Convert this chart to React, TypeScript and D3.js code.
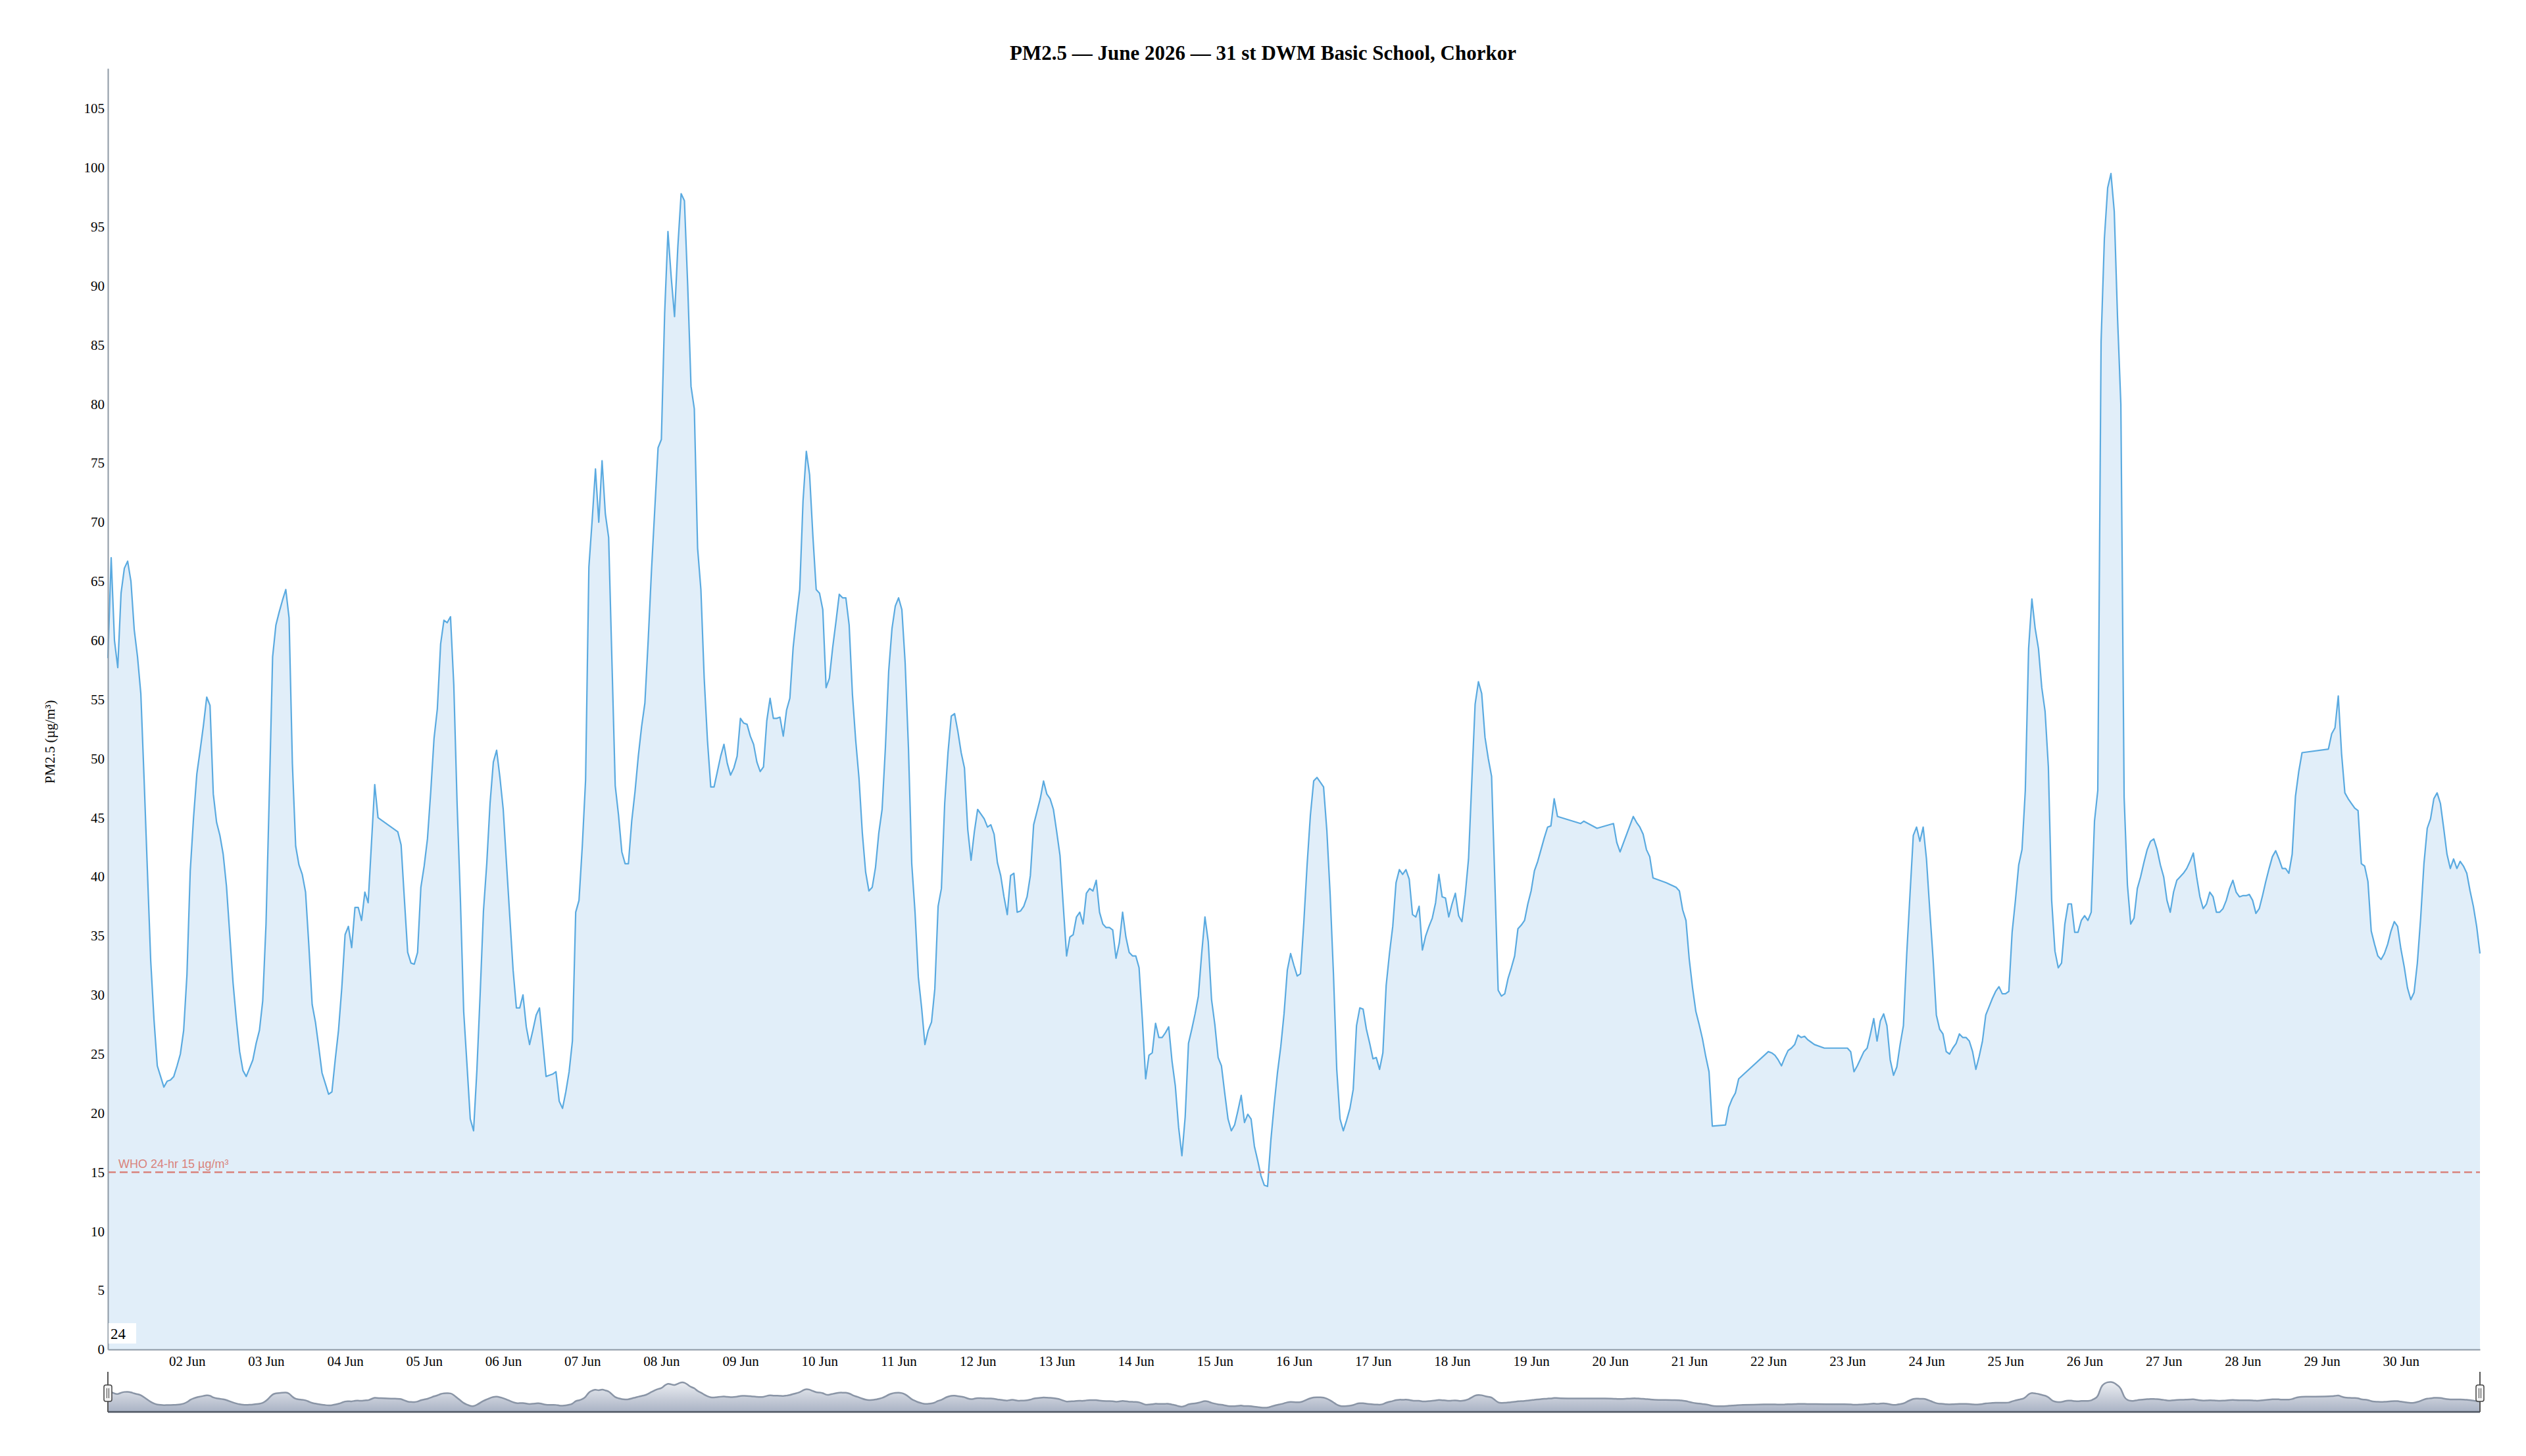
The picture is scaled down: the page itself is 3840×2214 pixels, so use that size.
import React, { useEffect, useRef } from "react";
import * as d3 from "d3";

// Hourly PM2.5 readings (µg/m³), 00:00 .. 23:00 each day; null = no reading
const jun01 = [58.5, 67, 60, 57.7, 64, 66.1, 66.7, 65, 60.9, 58.6, 55.5, 48.2, 40.5, 32.9, 27.9, 24, 23.1, 22.2, 22.7, 22.8, 23.1, 24, 25, 27];
const jun02 = [31.7, 40.5, 45, 48.7, 50.7, 52.8, 55.2, 54.5, 47, 44.6, 43.5, 41.9, 39.2, 35.1, 31, 27.9, 25.2, 23.6, 23.1, 23.8, 24.5, 25.9, 27, 29.5];
const jun03 = [36, 47, 58.6, 61.3, 62.4, 63.4, 64.3, 61.9, 49.6, 42.6, 41, 40.2, 38.7, 34.2, 29.2, 27.7, 25.6, 23.4, 22.5, 21.6, 21.8, 24.5, 27, 30.6];
const jun04 = [35.1, 35.8, 34, 37.4, 37.4, 36.3, 38.7, 37.8, 42.8, 47.8, 45, null, null, null, null, null, 43.8, 42.7, 38.1, 33.6, 32.7, 32.6, 33.6, 39.1];
const jun05 = [40.9, 43.2, 47.2, 51.7, 54.2, 59.7, 61.7, 61.5, 62, 56.2, 46.2, 38.1, 28.6, 24.1, 19.5, 18.5, 23.6, 30.1, 37.1, 41.1, 46.2, 49.7, 50.7, 48.4];
const jun06 = [45.7, 41.1, 36.6, 32.1, 28.9, 28.9, 30, 27.3, 25.8, 27, 28.3, 28.9, 26, 23.1, 23.2, 23.3, 23.5, 21, 20.4, 21.8, 23.5, 26.1, 37, 38];
const jun07 = [42.6, 48.2, 66.2, 70.2, 74.5, 70, 75.2, 70.7, 68.7, 58.2, 47.7, 45.2, 42.1, 41.1, 41.1, 44.7, 47.2, 50.2, 52.7, 54.7, 60, 65.9, 71.1, 76.3];
const jun08 = [77, 87.7, 94.6, 90.7, 87.4, 93.3, 97.8, 97.2, 90, 81.5, 79.6, 67.8, 64.3, 56.8, 51.5, 47.6, 47.6, 48.9, 50.2, 51.2, 49.6, 48.6, 49.2, 50.2];
const jun09 = [53.4, 53, 52.9, 51.9, 51.2, 49.7, 48.9, 49.3, 53.2, 55.1, 53.4, 53.4, 53.5, 51.9, 54.1, 55.1, 59.4, 62, 64.3, 71.8, 76, 74, 68.8, 64.3];
const jun10 = [64, 62.6, 56, 56.8, 59.4, 61.6, 63.9, 63.6, 63.6, 61.3, 55.4, 51.5, 48.3, 43.7, 40.4, 38.8, 39.1, 40.8, 43.7, 45.7, 50.9, 57.4, 61, 62.9];
const jun11 = [63.6, 62.6, 58.1, 50.9, 41.1, 37, 31.5, 28.9, 25.8, 27, 27.7, 30.5, 37.5, 39, 46.2, 50.5, 53.6, 53.8, 52.3, 50.5, 49.2, 44, 41.4, 43.8];
const jun12 = [45.7, 45.3, 44.9, 44.2, 44.4, 43.6, 41.2, 40.1, 38.3, 36.8, 40.1, 40.3, 37, 37.1, 37.5, 38.3, 40.1, 44.4, 45.5, 46.6, 48.1, 47, 46.6, 45.7];
const jun13 = [43.8, 41.8, 37.5, 33.3, 34.9, 35.1, 36.6, 37, 36, 38.6, 39, 38.8, 39.7, 37, 36, 35.7, 35.7, 35.5, 33.1, 34.4, 37, 34.9, 33.6, 33.3];
const jun14 = [33.3, 32.3, 27.9, 22.9, 24.9, 25.1, 27.6, 26.4, 26.4, 26.8, 27.3, 24.4, 22.3, 18.8, 16.4, 19.7, 25.9, 27.1, 28.4, 29.9, 33.5, 36.6, 34.5, 29.6];
const jun15 = [27.5, 24.7, 24, 21.7, 19.5, 18.5, 19, 20.2, 21.5, 19.2, 19.9, 19.5, 17.2, 16, 14.7, 13.9, 13.8, 17.7, 20.7, 23.4, 25.6, 28.4, 32.1, 33.5];
const jun16 = [32.5, 31.6, 31.8, 36.1, 41, 45.2, 48.1, 48.4, 48, 47.6, 43.9, 38.5, 31.8, 23.7, 19.5, 18.5, 19.4, 20.4, 22, 27.4, 28.9, 28.8, 27.1, 25.9];
const jun17 = [24.6, 24.7, 23.7, 25.1, 30.8, 33.5, 35.8, 39.5, 40.6, 40.2, 40.6, 39.8, 36.8, 36.6, 37.5, 33.8, 35, 35.8, 36.5, 37.8, 40.2, 38.3, 38.2, 36.6];
const jun18 = [37.7, 38.6, 36.7, 36.2, 38.5, 41.5, 48.1, 54.6, 56.5, 55.5, 51.8, 50, 48.5, 39.5, 30.4, 29.9, 30.1, 31.4, 32.3, 33.3, 35.6, 35.9, 36.3, 37.7];
const jun19 = [38.8, 40.5, 41.3, 42.3, 43.3, 44.2, 44.3, 46.6, 45.1, null, null, null, null, null, null, 44.5, 44.7, null, null, null, 44.1, null, null, null];
const jun20 = [null, 44.5, 42.9, 42.1, null, null, null, 45.1, 44.6, 44.2, 43.6, 42.3, 41.7, 39.9, null, null, null, 39.5, null, null, 39.1, 38.8, 37.2, 36.3];
const jun21 = [33, 30.6, 28.6, 27.5, 26.3, 24.8, 23.5, 18.9, null, null, null, 19, 20.5, 21.2, 21.7, 22.9, null, null, null, null, null, null, null, null];
const jun22 = [25.2, 25.1, 24.9, 24.5, 24, 24.7, 25.3, 25.5, 25.8, 26.6, 26.4, 26.5, 26.2, 26, 25.8, null, null, 25.5, null, null, null, null, null, null];
const jun23 = [25.5, 25.2, 23.5, 24, 24.6, 25.2, 25.5, 26.7, 28, 26.1, 27.8, 28.4, 27.4, 24.5, 23.2, 23.9, 25.8, 27.4, 33.4, 38.5, 43.5, 44.2, 43, 44.2];
const jun24 = [41.5, 37.2, 33.1, 28.3, 27.1, 26.7, 25.2, 25, 25.5, 25.9, 26.7, 26.4, 26.4, 26.1, 25.2, 23.7, 24.8, 26.1, 28.3, 29, 29.7, 30.3, 30.7, 30.1];
const jun25 = [30.1, 30.3, 35.3, 38, 41, 42.3, 47.3, 59.3, 63.5, 61, 59.3, 56, 54, 49.3, 38, 33.7, 32.3, 32.7, 36, 37.7, 37.7, 35.3, 35.3, 36.3];
const jun26 = [36.7, 36.3, 37, 44.7, 47.3, 85.3, 94, 98.3, 99.5, 96.3, 87.3, 80, 46.7, 39.3, 36, 36.5, 39, 40, 41.2, 42.3, 43, 43.2, 42.3, 41];
const jun27 = [40, 38, 37, 38.7, 39.7, 40, 40.3, 40.7, 41.3, 42, 40, 38.3, 37.3, 37.7, 38.7, 38.3, 37, 37, 37.3, 38, 39, 39.7, 38.7, 38.3];
const jun28 = [38.4, 38.4, 38.5, 38, 36.9, 37.3, 38.4, 39.6, 40.7, 41.7, 42.2, 41.5, 40.7, 40.7, 40.3, 41.9, 46.8, 48.9, 50.5, null, null, null, null, null];
const jun29 = [null, null, 50.8, 52.1, 52.6, 55.3, 50.4, 47.1, 46.6, 46.2, 45.8, 45.6, 41.1, 40.9, 39.6, 35.4, 34.3, 33.3, 33, 33.5, 34.3, 35.4, 36.2, 35.8];
const jun30 = [33.9, 32.4, 30.6, 29.6, 30.2, 32.7, 36.5, 41.1, 44.1, 44.9, 46.6, 47.1, 46.2, 44.1, 41.9, 40.7, 41.5, 40.7, 41.3, 40.9, 40.3, 38.8, 37.5, 35.8];
const jul01 = [33.5];

const days = [
  jun01, jun02, jun03, jun04, jun05, jun06, jun07, jun08, jun09, jun10,
  jun11, jun12, jun13, jun14, jun15, jun16, jun17, jun18, jun19, jun20,
  jun21, jun22, jun23, jun24, jun25, jun26, jun27, jun28, jun29, jun30, jul01,
];

const yTicks = [0, 5, 10, 15, 20, 25, 30, 35, 40, 45, 50, 55, 60, 65, 70, 75, 80, 85, 90, 95, 100, 105];
const tickDays = [2, 3, 4, 5, 6, 7, 8, 9, 10, 11, 12, 13, 14, 15, 16, 17, 18, 19, 20, 21, 22, 23, 24, 25, 26, 27, 28, 29, 30];

const title = "PM2.5 — June 2026 — 31 st DWM Basic School, Chorkor";
const yTitle = "PM2.5 (µg/m³)";
const whoLimit = 15;
const whoLabel = "WHO 24-hr 15 µg/m³";
const rangeLabel = "24";

type Pt = { t: Date; v: number };

const points: Pt[] = [];
days.forEach((arr, d) => {
  arr.forEach((v, h) => {
    if (v !== null) points.push({ t: new Date(Date.UTC(2026, 5, 1 + d, h)), v: v as number });
  });
});

const serif = "'Liberation Serif', 'Times New Roman', Times, serif";
const sans = "'Liberation Sans', Arial, Helvetica, sans-serif";

export default function App() {
  const svgRef = useRef<SVGSVGElement | null>(null);

  useEffect(() => {
    const svg = d3.select(svgRef.current);
    svg.selectAll("*").remove();

    const left = 164, right = 3770, top = 104, bottom = 2052;
    const navTop = 2086, navBottom = 2147;

    const x = d3
      .scaleUtc()
      .domain([new Date(Date.UTC(2026, 5, 1)), new Date(Date.UTC(2026, 6, 1))])
      .range([left, right]);
    const y = d3.scaleLinear().domain([0, 108.4]).range([bottom, top]);
    const yNav = d3.scaleLinear().domain([0, 108.4]).range([navBottom, 2097]);

    const defs = svg.append("defs");
    const grad = defs
      .append("linearGradient")
      .attr("id", "navFill")
      .attr("x1", 0)
      .attr("x2", 0)
      .attr("y1", 0)
      .attr("y2", 1);
    grad.append("stop").attr("offset", "0%").attr("stop-color", "#eceef2");
    grad.append("stop").attr("offset", "100%").attr("stop-color", "#a9b2c4");

    // title
    svg
      .append("text")
      .attr("x", 1920)
      .attr("y", 91)
      .attr("text-anchor", "middle")
      .attr("font-family", serif)
      .attr("font-weight", "bold")
      .attr("font-size", 31)
      .text(title);

    // area + line
    const area = d3
      .area<Pt>()
      .x(d => x(d.t))
      .y0(bottom)
      .y1(d => y(d.v));
    const line = d3
      .line<Pt>()
      .x(d => x(d.t))
      .y(d => y(d.v));

    svg.append("path").datum(points).attr("d", area).attr("fill", "#e1eef9");
    svg
      .append("path")
      .datum(points)
      .attr("d", line)
      .attr("fill", "none")
      .attr("stroke", "#5aaae0")
      .attr("stroke-width", 2.2)
      .attr("stroke-linejoin", "round");

    // WHO guideline
    svg
      .append("line")
      .attr("x1", left)
      .attr("x2", right)
      .attr("y1", y(whoLimit))
      .attr("y2", y(whoLimit))
      .attr("stroke", "#d9837c")
      .attr("stroke-width", 2.5)
      .attr("stroke-dasharray", "12 6");
    svg
      .append("text")
      .attr("x", left + 16)
      .attr("y", y(whoLimit) - 6)
      .attr("font-family", sans)
      .attr("font-size", 18)
      .attr("fill", "#d9837c")
      .text(whoLabel);

    // axes
    const xAxis = svg
      .append("g")
      .attr("transform", `translate(0,${bottom})`)
      .call(
        d3
          .axisBottom(x)
          .tickValues(tickDays.map(d => new Date(Date.UTC(2026, 5, d))))
          .tickFormat(d => d3.utcFormat("%d %b")(d as Date))
          .tickSize(0)
          .tickPadding(10)
      );
    const yAxis = svg
      .append("g")
      .attr("transform", `translate(${left},0)`)
      .call(d3.axisLeft(y).tickValues(yTicks).tickSize(0).tickPadding(5));

    [xAxis, yAxis].forEach(g => {
      g.select(".domain").attr("stroke", "#8e99a5").attr("stroke-width", 2);
      g.selectAll("text").attr("font-family", serif).attr("font-size", 21).attr("fill", "#000");
    });

    // y axis title
    svg
      .append("text")
      .attr("transform", "translate(83,1128) rotate(-90)")
      .attr("text-anchor", "middle")
      .attr("font-family", serif)
      .attr("font-size", 21)
      .text(yTitle);

    // range box
    svg
      .append("rect")
      .attr("x", left + 1)
      .attr("y", bottom - 40)
      .attr("width", 42)
      .attr("height", 31)
      .attr("fill", "#fff");
    svg
      .append("text")
      .attr("x", left + 4)
      .attr("y", bottom - 16)
      .attr("font-family", serif)
      .attr("font-size", 23)
      .text(rangeLabel);

    // navigator
    const navArea = d3
      .area<Pt>()
      .curve(d3.curveBasis)
      .x(d => x(d.t))
      .y0(navBottom)
      .y1(d => yNav(d.v));
    const navLine = d3
      .line<Pt>()
      .curve(d3.curveBasis)
      .x(d => x(d.t))
      .y(d => yNav(d.v));
    const nav = svg.append("g");
    nav.append("path").datum(points).attr("d", navArea).attr("fill", "url(#navFill)");
    nav
      .append("path")
      .datum(points)
      .attr("d", navLine)
      .attr("fill", "none")
      .attr("stroke", "#8a95a6")
      .attr("stroke-width", 2.5);
    nav
      .append("line")
      .attr("x1", left)
      .attr("x2", right)
      .attr("y1", navBottom)
      .attr("y2", navBottom)
      .attr("stroke", "#4d5561")
      .attr("stroke-width", 2.5);

    [left, right].forEach(hx => {
      nav
        .append("line")
        .attr("x1", hx)
        .attr("x2", hx)
        .attr("y1", navTop)
        .attr("y2", navBottom)
        .attr("stroke", "#555")
        .attr("stroke-width", 2);
      nav
        .append("rect")
        .attr("x", hx - 6)
        .attr("y", 2106)
        .attr("width", 12)
        .attr("height", 25)
        .attr("rx", 3)
        .attr("fill", "#f2f2f2")
        .attr("stroke", "#444")
        .attr("stroke-width", 1.5);
      [-1.5, 1.5].forEach(off => {
        nav
          .append("line")
          .attr("x1", hx + off)
          .attr("x2", hx + off)
          .attr("y1", 2111)
          .attr("y2", 2126)
          .attr("stroke", "#444")
          .attr("stroke-width", 1);
      });
    });
  }, []);

  return (
    <>
      <style>{"body{margin:0}"}</style>
      <svg ref={svgRef} width={3840} height={2214} style={{ display: "block", background: "#fff" }}></svg>
    </>
  );
}
